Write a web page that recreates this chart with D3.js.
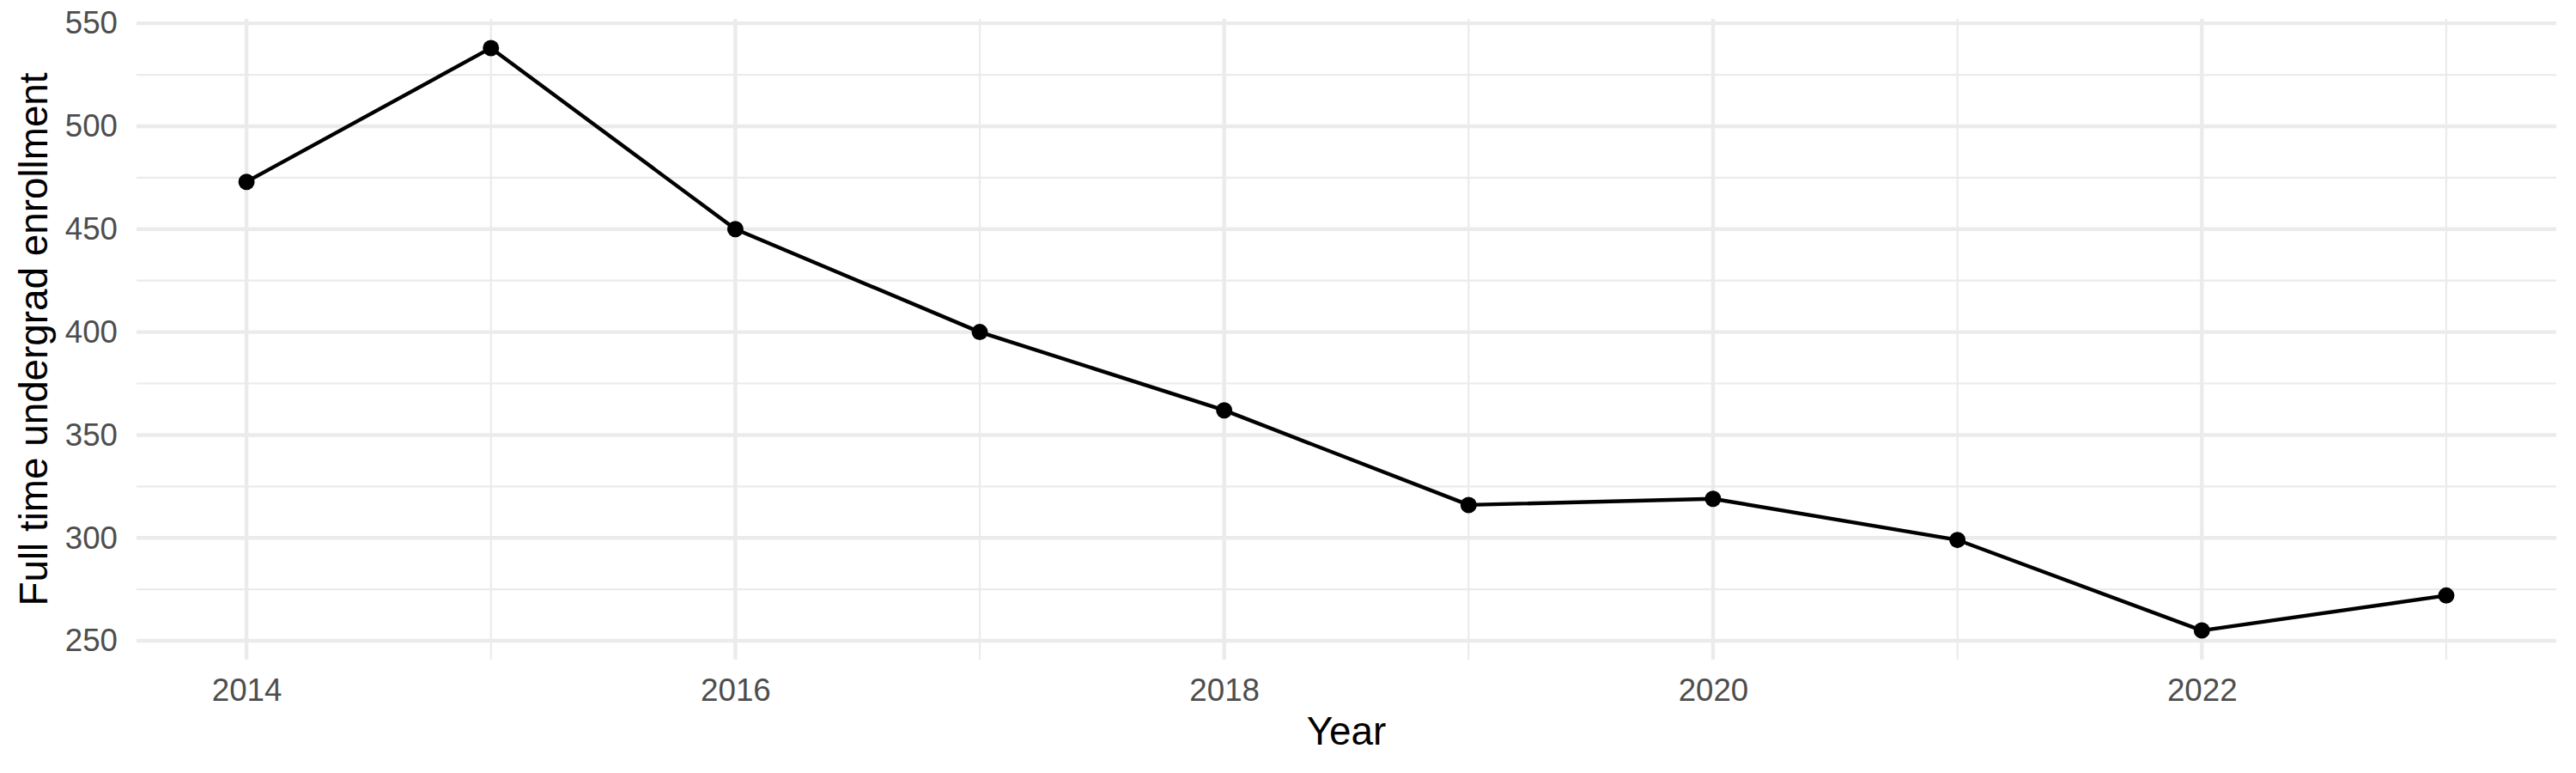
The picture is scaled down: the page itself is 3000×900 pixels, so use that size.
<!DOCTYPE html>
<html>
<head>
<meta charset="utf-8">
<script src="https://cdn.jsdelivr.net/npm/d3@7"></script>
<style>
  body { margin: 0; background: #fff; }
  svg { display: block; font-family: "Liberation Sans", Arial, sans-serif; }
</style>
</head>
<body>
<div id="chart"></div>
<script>
// data
var years = [2014, 2015, 2016, 2017, 2018, 2019, 2020, 2021, 2022, 2023];
var enrollment = [473, 538, 450, 400, 362, 316, 319, 299, 255, 272];

var xMajorTicks = [2014, 2016, 2018, 2020, 2022];
var xMinorTicks = [2015, 2017, 2019, 2021, 2023];
var yMajorTicks = [250, 300, 350, 400, 450, 500, 550];
var yMinorTicks = [275, 325, 375, 425, 475, 525];

var xLabel = "Year";
var yLabel = "Full time undergrad enrollment";

var width = 3000, height = 900;
var panel = {left: 159, right: 2977, top: 22, bottom: 768};

var svg = d3.select("#chart").append("svg")
  .attr("width", width)
  .attr("height", height);

// ggplot-like 5% expansion of the data range
function expand(ext) {
  var pad = (ext[1] - ext[0]) * 0.05;
  return [ext[0] - pad, ext[1] + pad];
}

var x = d3.scaleLinear()
  .domain(expand(d3.extent(years)))
  .range([panel.left, panel.right]);

var y = d3.scaleLinear()
  .domain(expand(d3.extent(enrollment)))
  .range([panel.bottom, panel.top]);

var data = years.map(function(d, i) { return {year: d, value: enrollment[i]}; });

// grid
var grid = svg.append("g").attr("class", "grid");

grid.selectAll(".yminor").data(yMinorTicks).enter()
  .append("line")
  .attr("x1", panel.left).attr("x2", panel.right)
  .attr("y1", d => y(d)).attr("y2", d => y(d))
  .style("stroke", "#ebebeb").style("stroke-width", 2.2);

grid.selectAll(".xminor").data(xMinorTicks).enter()
  .append("line")
  .attr("y1", panel.top).attr("y2", panel.bottom)
  .attr("x1", d => x(d)).attr("x2", d => x(d))
  .style("stroke", "#ebebeb").style("stroke-width", 2.2);

grid.selectAll(".ymajor").data(yMajorTicks).enter()
  .append("line")
  .attr("x1", panel.left).attr("x2", panel.right)
  .attr("y1", d => y(d)).attr("y2", d => y(d))
  .style("stroke", "#ebebeb").style("stroke-width", 4.4);

grid.selectAll(".xmajor").data(xMajorTicks).enter()
  .append("line")
  .attr("y1", panel.top).attr("y2", panel.bottom)
  .attr("x1", d => x(d)).attr("x2", d => x(d))
  .style("stroke", "#ebebeb").style("stroke-width", 4.4);

// axes (no domain line, no ticks, like theme_minimal)
var yAxis = svg.append("g")
  .attr("transform", "translate(" + panel.left + ",0)")
  .call(d3.axisLeft(y).tickValues(yMajorTicks).tickSize(0).tickPadding(22));
yAxis.select(".domain").remove();
yAxis.selectAll("text")
  .style("font-family", "Liberation Sans, Arial, sans-serif")
  .style("font-size", "36.7px")
  .style("fill", "#4d4d4d");

var xAxis = svg.append("g")
  .attr("transform", "translate(0," + panel.bottom + ")")
  .call(d3.axisBottom(x).tickValues(xMajorTicks).tickFormat(d3.format("d")).tickSize(0).tickPadding(22));
xAxis.select(".domain").remove();
xAxis.selectAll("text")
  .style("font-family", "Liberation Sans, Arial, sans-serif")
  .style("font-size", "36.7px")
  .style("fill", "#4d4d4d");

// line + points
var line = d3.line()
  .x(d => x(d.year))
  .y(d => y(d.value));

svg.append("path")
  .datum(data)
  .attr("d", line)
  .style("fill", "none")
  .style("stroke", "#000")
  .style("stroke-width", 4.4)
  .style("stroke-linejoin", "round");

svg.selectAll(".pt").data(data).enter()
  .append("circle")
  .attr("class", "pt")
  .attr("cx", d => x(d.year))
  .attr("cy", d => y(d.value))
  .attr("r", 9.5)
  .style("fill", "#000");

// axis titles
svg.append("text")
  .attr("x", (panel.left + panel.right) / 2)
  .attr("y", 867)
  .attr("text-anchor", "middle")
  .style("font-size", "45.8px")
  .style("fill", "#000")
  .text(xLabel);

svg.append("text")
  .attr("transform", "translate(55," + ((panel.top + panel.bottom) / 2) + ") rotate(-90)")
  .attr("text-anchor", "middle")
  .style("font-size", "45.8px")
  .style("fill", "#000")
  .text(yLabel);
</script>
</body>
</html>
